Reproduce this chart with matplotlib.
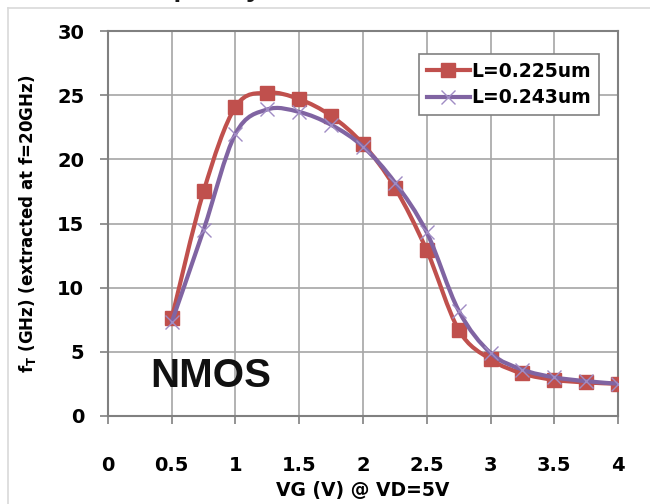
import numpy as np
import matplotlib
matplotlib.use('Agg')
import matplotlib.pyplot as plt
from matplotlib.path import Path
from matplotlib.patches import PathPatch
from matplotlib.lines import Line2D

# data
vg = [0.5, 0.75, 1.0, 1.25, 1.5, 1.75, 2.0, 2.25, 2.5, 2.75, 3.0, 3.25, 3.5, 3.75, 4.0]
ft_225 = [7.6, 17.5, 24.1, 25.2, 24.7, 23.4, 21.2, 17.8, 12.9, 6.7, 4.4, 3.3, 2.8, 2.6, 2.5]
ft_243 = [7.3, 14.5, 22.0, 23.9, 23.7, 22.7, 21.0, 18.2, 14.3, 8.2, 4.9, 3.6, 3.0, 2.7, 2.5]
labels = ['L=0.225um', 'L=0.243um']
x_ticks = [0, 0.5, 1, 1.5, 2, 2.5, 3, 3.5, 4]
x_ticklabels = ['0', '0.5', '1', '1.5', '2', '2.5', '3', '3.5', '4']
y_ticks = [0, 5, 10, 15, 20, 25, 30]

red = '#C0504D'
purple = '#8064A2'
font = 'DejaVu Sans'


def smooth_path(x, y):
    # Excel-style smoothed line: cubic bezier through each point
    x = np.asarray(x, float)
    y = np.asarray(y, float)
    verts = [(x[0], y[0])]
    codes = [Path.MOVETO]
    n = len(x)
    for i in range(n - 1):
        x0, y0 = (x[i - 1], y[i - 1]) if i > 0 else (x[i], y[i])
        x3, y3 = (x[i + 2], y[i + 2]) if i + 2 < n else (x[i + 1], y[i + 1])
        c1 = (x[i] + (x[i + 1] - x0) / 6, y[i] + (y[i + 1] - y0) / 6)
        c2 = (x[i + 1] - (x3 - x[i]) / 6, y[i + 1] - (y3 - y[i]) / 6)
        verts += [c1, c2, (x[i + 1], y[i + 1])]
        codes += [Path.CURVE4] * 3
    return Path(verts, codes)


fig = plt.figure(figsize=(6.5, 5.04), dpi=100)
ax = fig.add_axes([0.166, 0.175, 0.785, 0.763])

# figure frame (light gray, top and left)
fig.add_artist(Line2D([8 / 650, 1], [1 - 8 / 504] * 2, color='#D9D9D9', lw=1.2))
fig.add_artist(Line2D([8 / 650] * 2, [0, 1 - 8 / 504], color='#D9D9D9', lw=1.2))
# title cropped by the top edge, only descenders show
fig.text(121 / 650, 1.0 + 4 / 504, 'Frequency', fontsize=20, fontweight='bold',
         family='Liberation Sans', va='baseline', ha='left', color='#1a1a1a')

ax.add_patch(PathPatch(smooth_path(vg, ft_225), fill=False, edgecolor=red, lw=3.0,
                       zorder=3, capstyle='round'))
ax.plot(vg, ft_225, ls='none', marker='s', ms=10, color=red, zorder=4)
ax.add_patch(PathPatch(smooth_path(vg, ft_243), fill=False, edgecolor=purple, lw=3.0,
                       zorder=5, capstyle='round'))
ax.plot(vg, ft_243, ls='none', marker='x', ms=10, mew=1.0, color='#A08CC4', zorder=6)

ax.set_xlim(0, 4)
ax.set_ylim(0, 30)
ax.set_xticks(x_ticks)
ax.set_xticklabels(x_ticklabels)
ax.set_yticks(y_ticks)
ax.grid(True, color='#A6A6A6', lw=1.2)
ax.set_axisbelow(True)
for s in ax.spines.values():
    s.set_color('#808080')
    s.set_linewidth(1.5)
ax.tick_params(axis='both', length=6, width=1.2, color='#808080',
               labelsize=14)
ax.tick_params(axis='x', pad=23)
ax.tick_params(axis='y', pad=11)
for lab in ax.get_xticklabels() + ax.get_yticklabels():
    lab.set_fontweight('bold')
    lab.set_family(font)

ax.set_xlabel('VG (V) @ VD=5V', fontsize=13.5, fontweight='bold', family=font,
              labelpad=4)
ax.set_ylabel(r'f$_\mathbf{T}$ (GHz) (extracted at f=20GHz)', fontsize=12,
              fontweight='bold', family=font, labelpad=14)

ax.text(0.81, 3.1, 'NMOS', fontsize=29, fontweight='bold', family='Liberation Sans',
        ha='center', va='center', color='#111111')

h1 = Line2D([], [], color=red, lw=3, marker='s', ms=10)
h2 = Line2D([], [], color=purple, lw=3, marker='x', ms=10, mec='#A08CC4')
leg = ax.legend([h1, h2], labels, loc='upper right', bbox_to_anchor=(0.962, 0.94),
                fancybox=False, framealpha=1, edgecolor='#808080',
                prop={'family': font, 'weight': 'bold', 'size': 13.5},
                handlelength=2.3, handletextpad=0.1, borderpad=0.4,
                labelspacing=0.4, borderaxespad=0.0)
leg.get_frame().set_linewidth(1.2)

fig.savefig('out.png', dpi=100)
